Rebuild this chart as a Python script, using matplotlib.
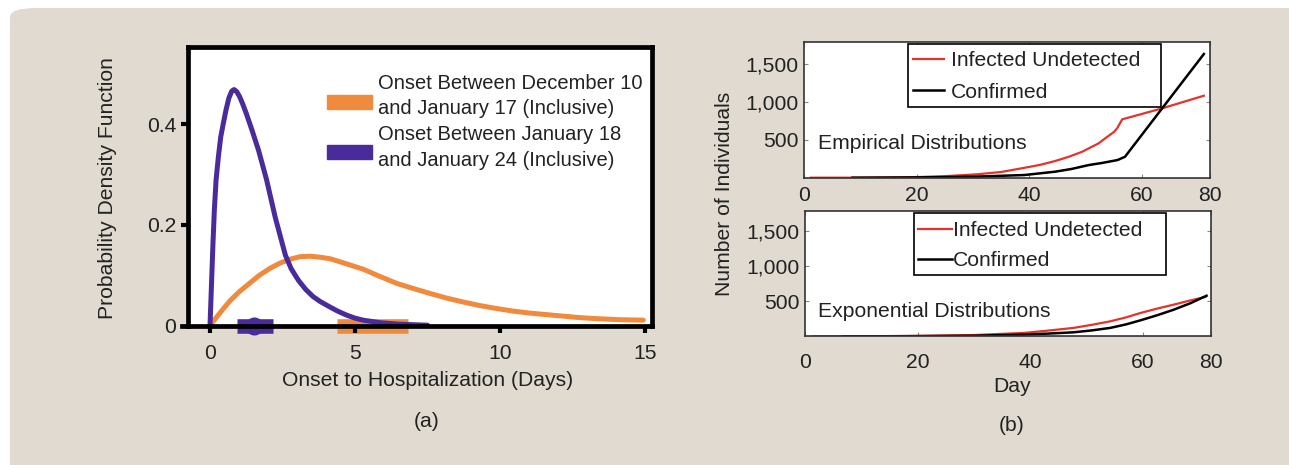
import numpy as np
import matplotlib
matplotlib.use("Agg")
import matplotlib.pyplot as plt
from matplotlib.patches import FancyBboxPatch, Rectangle
from matplotlib.lines import Line2D

plt.rcParams['font.family'] = ['Liberation Sans', 'DejaVu Sans']

# ---- panel (a): onset-to-hospitalization densities
early_x = [0, 0.2, 0.45, 0.7, 1.0, 1.38, 1.7, 2.07, 2.4, 2.76, 3.1, 3.45, 3.8, 4.14, 4.7,
           5.29, 5.85, 6.44, 7.0, 7.59, 8.15, 8.73, 9.3, 9.89, 10.45, 11.03, 11.6, 12.18,
           12.75, 13.33, 14.1, 14.94]
early_y = [0, 0.015, 0.033, 0.05, 0.067, 0.085, 0.1, 0.114, 0.124, 0.132, 0.137, 0.138,
           0.136, 0.133, 0.123, 0.112, 0.098, 0.084, 0.074, 0.064, 0.055, 0.047, 0.040,
           0.034, 0.029, 0.025, 0.022, 0.019, 0.016, 0.014, 0.012, 0.011]
late_x = [0, 0.05, 0.1, 0.15, 0.21, 0.29, 0.37, 0.46, 0.55, 0.65, 0.75, 0.83, 0.92, 1.02,
          1.13, 1.26, 1.45, 1.67, 1.95, 2.25, 2.6, 2.8, 3.05, 3.3, 3.55, 3.8, 4.14, 4.4,
          4.71, 5.0, 5.28, 5.86, 6.5, 7.5]
late_y = [0, 0.08, 0.16, 0.23, 0.29, 0.336, 0.375, 0.402, 0.428, 0.452, 0.466, 0.469,
          0.465, 0.455, 0.44, 0.42, 0.388, 0.349, 0.29, 0.215, 0.14, 0.113, 0.09, 0.072,
          0.058, 0.048, 0.037, 0.029, 0.021, 0.015, 0.011, 0.006, 0.003, 0.001]
early_ci = [4.37, 6.84]
early_mid = 5.52
late_ci = [0.94, 2.18]
late_mid = 1.52
early_label = ["Onset Between December 10", "and January 17 (Inclusive)"]
late_label = ["Onset Between January 18", "and January 24 (Inclusive)"]

# ---- panel (b): simulated counts
day_ticks = [0, 20, 40, 60, 72]
day_ticklabels = ['0', '20', '40', '60', '80']
count_ticks = [500, 1000, 1500]
count_ticklabels = ['500', '1,000', '1,500']

emp_undet_x = [1.2, 8.6, 15, 20, 25, 30.8, 35, 39.1, 42, 44.6, 47, 49.4, 50.8, 52.3, 53.6,
               55.0, 55.6, 56.5, 63.6, 71.0]
emp_undet_y = [0, 0, 3, 8, 20, 45, 75, 130, 170, 220, 275, 342, 395, 452, 525,
               600, 650, 768, 913, 1079]
emp_conf_x = [8.6, 15, 20, 25, 30.8, 35, 39.1, 44.6, 47.5, 50.6, 53, 55.7, 57.0, 71.0]
emp_conf_y = [0, 2, 4, 8, 15, 25, 35, 79, 115, 167, 195, 233, 276, 1628]

exp_undet_x = [1.4, 6.7, 15, 20, 30, 38.8, 43, 47.7, 51, 54.2, 57, 59.6, 62.5, 65.5, 68.3, 71.1]
exp_undet_y = [0, 0, 2, 5, 18, 48, 80, 120, 165, 214, 270, 334, 395, 453, 510, 563]
exp_conf_x = [6.7, 15, 20, 30, 38.8, 43, 47.7, 51, 54.2, 57, 59.6, 62.5, 65.5, 68.5, 71.3]
exp_conf_y = [0, 1, 3, 8, 24, 38, 57, 85, 120, 170, 229, 300, 381, 475, 580]

ORANGE = '#f08a3c'
PURPLE = '#4a2b9c'
RED = '#e5322b'
TXT = '#222222'
FS = 15.2
W, H = 1289, 465


def box(l, t, r, b):
    return [l / W, 1 - b / H, (r - l) / W, (b - t) / H]


def fx(px):
    return px / W


def fy(py):
    return 1 - py / H


fig = plt.figure(figsize=(W / 100, H / 100), dpi=100)
fig.patch.set_facecolor('white')
fig.patches.append(FancyBboxPatch((10 / W, -0.1), 1.2, 1 - 8 / H + 0.1,
                                  boxstyle="round,pad=0,rounding_size=0.02",
                                  transform=fig.transFigure, fc='#e1dad1', ec='none',
                                  zorder=-10))

# ---------------- panel (a)
ax = fig.add_axes(box(187.5, 47.5, 652, 325.7))
ax.plot(early_x, early_y, color=ORANGE, lw=3.6, solid_capstyle='round')
ax.plot(late_x, late_y, color=PURPLE, lw=3.6, solid_capstyle='round', solid_joinstyle='round')
ax.plot(early_ci, [0, 0], color=ORANGE, lw=10.5, solid_capstyle='butt', clip_on=False, zorder=1.5)
ax.plot([early_mid], [0], 'o', color=ORANGE, ms=7, clip_on=False, zorder=1.4)
ax.plot(late_ci, [0, 0], color=PURPLE, lw=10.5, solid_capstyle='butt', clip_on=False, zorder=1.5)
ax.plot([late_mid], [0], 'o', color=PURPLE, ms=12, clip_on=False, zorder=1.6)
ax.set_xlim(-0.776, 15.24)
ax.set_ylim(0, 0.5525)
for s in ax.spines.values():
    s.set_linewidth(3.4)
    s.set_color('black')
ax.add_line(Line2D([-0.012, 0], [0, 0], transform=ax.transAxes, color='black', lw=3.4, clip_on=False))
ax.set_xticks([0, 5, 10, 15])
ax.set_yticks([0, 0.2, 0.4])
ax.set_yticklabels(['0', '0.2', '0.4'])
ax.tick_params(axis='x', direction='out', length=5, width=3, pad=8, labelsize=FS, labelcolor=TXT)
ax.tick_params(axis='y', direction='out', length=5, width=3, pad=3, labelsize=FS, labelcolor=TXT)
ax.yaxis.get_major_ticks()[0].tick1line.set_visible(False)

# legend of panel (a): colour swatches with two-line labels
for color, label, swatch_top, text_rows in [(ORANGE, early_label, 95, (83.3, 108.3)),
                                            (PURPLE, late_label, 145, (135, 160))]:
    fig.add_artist(Rectangle((fx(327), fy(swatch_top + 14.5)), 45 / W, 14.5 / H,
                             transform=fig.transFigure, color=color))
    for line, row in zip(label, text_rows):
        fig.text(fx(378), fy(row), line, va='center', ha='left', fontsize=14.5, color=TXT)

fig.text(fx(108), fy(188), 'Probability Density Function', rotation=90,
         ha='center', va='center', fontsize=FS, color=TXT)
fig.text(fx(428), fy(380), 'Onset to Hospitalization (Days)', ha='center', va='center',
         fontsize=FS, color=TXT)
fig.text(fx(427), fy(421), '(a)', ha='center', va='center', fontsize=FS, color=TXT)

# ---------------- panel (b)
ax1 = fig.add_axes(box(804, 41.7, 1209.5, 177.7))
ax2 = fig.add_axes(box(805, 211, 1210.5, 336.3))
panels = [
    (ax1, emp_undet_x, emp_undet_y, emp_conf_x, emp_conf_y, 'Empirical Distributions',
     143.3, (908.3, 44, 1160.7, 106.7), (913, 51.3), 1.47, 0.32, 0.59, 6),
    (ax2, exp_undet_x, exp_undet_y, exp_conf_x, exp_conf_y, 'Exponential Distributions',
     311.7, (914, 212.7, 1166, 275), (918, 221), 1.6, 0.05, 0.53, 12),
]
for a, ux, uy, cx, cy, name, ny, frame, lpos, hl, hp, ls, xpad in panels:
    a.plot(ux, uy, color=RED, lw=1.6, label='Infected Undetected')
    a.plot(cx, cy, color='black', lw=1.8, label='Confirmed')
    a.set_xlim(0, 72)
    a.set_ylim(0, 1790)
    a.set_xticks(day_ticks)
    a.set_xticklabels(day_ticklabels)
    a.set_yticks(count_ticks)
    a.set_yticklabels(count_ticklabels)
    a.tick_params(direction='in', length=3, width=0.8, color='#888888', top=True, right=True,
                  labelsize=FS, labelcolor=TXT)
    a.tick_params(axis='x', pad=xpad)
    a.tick_params(axis='y', pad=4)
    for s in a.spines.values():
        s.set_linewidth(1.2)
        s.set_color('#333333')
    fig.text(fx(818.3), fy(ny), name, va='center', fontsize=FS, color=TXT)
    l, t, r, b = frame
    fig.add_artist(Rectangle((fx(l), fy(b)), (r - l) / W, (b - t) / H, transform=fig.transFigure,
                             fc='white', ec='black', lw=1.2, zorder=4))
    lg = a.legend(loc='upper left', bbox_to_anchor=(fx(lpos[0]), fy(lpos[1])),
                  bbox_transform=fig.transFigure, fontsize=FS, frameon=False,
                  handlelength=hl, handletextpad=hp, borderpad=0, labelspacing=ls,
                  borderaxespad=0)
    lg.set_zorder(5)
    lg.remove()
    fig.add_artist(lg)
    for t in lg.get_texts():
        t.set_color(TXT)

fig.text(fx(725), fy(194), 'Number of Individuals', rotation=90, ha='center',
         va='center', fontsize=FS, color=TXT)
fig.text(fx(1012), fy(386.7), 'Day', ha='center', va='center', fontsize=FS, color=TXT)
fig.text(fx(1012), fy(425), '(b)', ha='center', va='center', fontsize=FS, color=TXT)

fig.savefig('out.png', dpi=100)
